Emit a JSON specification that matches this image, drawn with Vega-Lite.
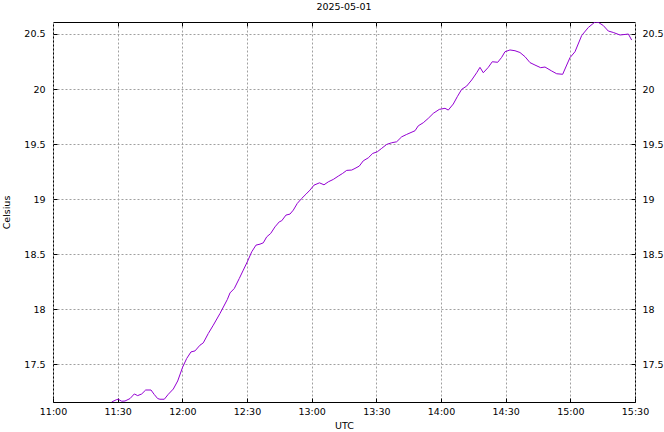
{
  "$schema": "https://vega.github.io/schema/vega-lite/v6.json",
  "autosize": "none",
  "width": 582,
  "height": 380,
  "padding": {"left": 53, "top": 22, "right": 29, "bottom": 30},
  "background": "white",
  "title": {"text": "2025-05-01", "fontSize": 9.5, "fontWeight": "normal", "font": "DejaVu Sans", "color": "#000", "offset": 10},
  "config": {
    "view": {"stroke": "#000", "strokeWidth": 1},
    "font": "DejaVu Sans",
    "axis": {"labelFont": "DejaVu Sans", "titleFont": "DejaVu Sans", "labelFontSize": 9.5, "titleFontSize": 9.5, "titleFontWeight": "normal", "labelColor": "#000", "titleColor": "#000", "domain": false, "tickColor": "#000", "gridColor": "#a0a0a0", "gridDash": [2, 2], "gridWidth": 1, "gridOpacity": 1}
  },
  "data": {"values": [
    {"time": "2025-05-01T11:27:14Z", "celsius": 17.157},
    {"time": "2025-05-01T11:29:33Z", "celsius": 17.179},
    {"time": "2025-05-01T11:30:17Z", "celsius": 17.182},
    {"time": "2025-05-01T11:31:52Z", "celsius": 17.164},
    {"time": "2025-05-01T11:33:24Z", "celsius": 17.166},
    {"time": "2025-05-01T11:35:43Z", "celsius": 17.188},
    {"time": "2025-05-01T11:37:43Z", "celsius": 17.230},
    {"time": "2025-05-01T11:39:17Z", "celsius": 17.215},
    {"time": "2025-05-01T11:41:09Z", "celsius": 17.230},
    {"time": "2025-05-01T11:43:00Z", "celsius": 17.266},
    {"time": "2025-05-01T11:45:28Z", "celsius": 17.266},
    {"time": "2025-05-01T11:46:59Z", "celsius": 17.225},
    {"time": "2025-05-01T11:48:34Z", "celsius": 17.188},
    {"time": "2025-05-01T11:49:38Z", "celsius": 17.182},
    {"time": "2025-05-01T11:51:38Z", "celsius": 17.182},
    {"time": "2025-05-01T11:53:29Z", "celsius": 17.227},
    {"time": "2025-05-01T11:55:49Z", "celsius": 17.275},
    {"time": "2025-05-01T11:57:51Z", "celsius": 17.348},
    {"time": "2025-05-01T12:00:10Z", "celsius": 17.475},
    {"time": "2025-05-01T12:02:01Z", "celsius": 17.552},
    {"time": "2025-05-01T12:04:01Z", "celsius": 17.612},
    {"time": "2025-05-01T12:05:52Z", "celsius": 17.621},
    {"time": "2025-05-01T12:08:11Z", "celsius": 17.673},
    {"time": "2025-05-01T12:09:43Z", "celsius": 17.694},
    {"time": "2025-05-01T12:12:02Z", "celsius": 17.779},
    {"time": "2025-05-01T12:14:22Z", "celsius": 17.855},
    {"time": "2025-05-01T12:17:28Z", "celsius": 17.961},
    {"time": "2025-05-01T12:20:52Z", "celsius": 18.088},
    {"time": "2025-05-01T12:22:07Z", "celsius": 18.148},
    {"time": "2025-05-01T12:24:06Z", "celsius": 18.188},
    {"time": "2025-05-01T12:26:25Z", "celsius": 18.279},
    {"time": "2025-05-01T12:28:17Z", "celsius": 18.355},
    {"time": "2025-05-01T12:30:08Z", "celsius": 18.430},
    {"time": "2025-05-01T12:32:11Z", "celsius": 18.521},
    {"time": "2025-05-01T12:34:10Z", "celsius": 18.582},
    {"time": "2025-05-01T12:36:02Z", "celsius": 18.591},
    {"time": "2025-05-01T12:37:34Z", "celsius": 18.603},
    {"time": "2025-05-01T12:39:08Z", "celsius": 18.657},
    {"time": "2025-05-01T12:40:59Z", "celsius": 18.688},
    {"time": "2025-05-01T12:42:59Z", "celsius": 18.748},
    {"time": "2025-05-01T12:44:59Z", "celsius": 18.794},
    {"time": "2025-05-01T12:46:05Z", "celsius": 18.803},
    {"time": "2025-05-01T12:48:05Z", "celsius": 18.855},
    {"time": "2025-05-01T12:49:56Z", "celsius": 18.864},
    {"time": "2025-05-01T12:51:29Z", "celsius": 18.900},
    {"time": "2025-05-01T12:53:20Z", "celsius": 18.961},
    {"time": "2025-05-01T12:55:22Z", "celsius": 19.006},
    {"time": "2025-05-01T12:57:22Z", "celsius": 19.045},
    {"time": "2025-05-01T12:59:13Z", "celsius": 19.082},
    {"time": "2025-05-01T13:01:05Z", "celsius": 19.127},
    {"time": "2025-05-01T13:03:38Z", "celsius": 19.148},
    {"time": "2025-05-01T13:05:43Z", "celsius": 19.130},
    {"time": "2025-05-01T13:07:43Z", "celsius": 19.157},
    {"time": "2025-05-01T13:10:02Z", "celsius": 19.179},
    {"time": "2025-05-01T13:12:21Z", "celsius": 19.209},
    {"time": "2025-05-01T13:14:23Z", "celsius": 19.234},
    {"time": "2025-05-01T13:16:15Z", "celsius": 19.261},
    {"time": "2025-05-01T13:18:34Z", "celsius": 19.264},
    {"time": "2025-05-01T13:20:06Z", "celsius": 19.279},
    {"time": "2025-05-01T13:22:05Z", "celsius": 19.300},
    {"time": "2025-05-01T13:23:57Z", "celsius": 19.348},
    {"time": "2025-05-01T13:26:16Z", "celsius": 19.375},
    {"time": "2025-05-01T13:28:19Z", "celsius": 19.415},
    {"time": "2025-05-01T13:30:26Z", "celsius": 19.430},
    {"time": "2025-05-01T13:32:29Z", "celsius": 19.461},
    {"time": "2025-05-01T13:34:48Z", "celsius": 19.497},
    {"time": "2025-05-01T13:37:07Z", "celsius": 19.512},
    {"time": "2025-05-01T13:39:26Z", "celsius": 19.521},
    {"time": "2025-05-01T13:41:46Z", "celsius": 19.566},
    {"time": "2025-05-01T13:44:05Z", "celsius": 19.588},
    {"time": "2025-05-01T13:47:56Z", "celsius": 19.621},
    {"time": "2025-05-01T13:49:28Z", "celsius": 19.666},
    {"time": "2025-05-01T13:51:47Z", "celsius": 19.694},
    {"time": "2025-05-01T13:54:06Z", "celsius": 19.734},
    {"time": "2025-05-01T13:56:25Z", "celsius": 19.779},
    {"time": "2025-05-01T13:59:12Z", "celsius": 19.815},
    {"time": "2025-05-01T14:01:51Z", "celsius": 19.825},
    {"time": "2025-05-01T14:03:23Z", "celsius": 19.809},
    {"time": "2025-05-01T14:05:42Z", "celsius": 19.864},
    {"time": "2025-05-01T14:07:33Z", "celsius": 19.930},
    {"time": "2025-05-01T14:09:35Z", "celsius": 19.997},
    {"time": "2025-05-01T14:11:55Z", "celsius": 20.027},
    {"time": "2025-05-01T14:14:14Z", "celsius": 20.082},
    {"time": "2025-05-01T14:16:33Z", "celsius": 20.148},
    {"time": "2025-05-01T14:18:05Z", "celsius": 20.197},
    {"time": "2025-05-01T14:19:37Z", "celsius": 20.148},
    {"time": "2025-05-01T14:21:56Z", "celsius": 20.197},
    {"time": "2025-05-01T14:23:47Z", "celsius": 20.248},
    {"time": "2025-05-01T14:26:18Z", "celsius": 20.243},
    {"time": "2025-05-01T14:28:09Z", "celsius": 20.288},
    {"time": "2025-05-01T14:29:41Z", "celsius": 20.339},
    {"time": "2025-05-01T14:32:00Z", "celsius": 20.355},
    {"time": "2025-05-01T14:34:19Z", "celsius": 20.348},
    {"time": "2025-05-01T14:36:38Z", "celsius": 20.332},
    {"time": "2025-05-01T14:38:58Z", "celsius": 20.294},
    {"time": "2025-05-01T14:41:17Z", "celsius": 20.240},
    {"time": "2025-05-01T14:43:36Z", "celsius": 20.218},
    {"time": "2025-05-01T14:46:14Z", "celsius": 20.194},
    {"time": "2025-05-01T14:48:14Z", "celsius": 20.200},
    {"time": "2025-05-01T14:51:21Z", "celsius": 20.164},
    {"time": "2025-05-01T14:53:40Z", "celsius": 20.139},
    {"time": "2025-05-01T14:56:27Z", "celsius": 20.134},
    {"time": "2025-05-01T14:58:19Z", "celsius": 20.218},
    {"time": "2025-05-01T14:59:50Z", "celsius": 20.285},
    {"time": "2025-05-01T15:02:10Z", "celsius": 20.339},
    {"time": "2025-05-01T15:05:16Z", "celsius": 20.486},
    {"time": "2025-05-01T15:08:20Z", "celsius": 20.559},
    {"time": "2025-05-01T15:11:26Z", "celsius": 20.609},
    {"time": "2025-05-01T15:12:58Z", "celsius": 20.606},
    {"time": "2025-05-01T15:15:17Z", "celsius": 20.577},
    {"time": "2025-05-01T15:17:36Z", "celsius": 20.527},
    {"time": "2025-05-01T15:19:55Z", "celsius": 20.514},
    {"time": "2025-05-01T15:23:02Z", "celsius": 20.491},
    {"time": "2025-05-01T15:25:49Z", "celsius": 20.497},
    {"time": "2025-05-01T15:26:54Z", "celsius": 20.500},
    {"time": "2025-05-01T15:28:27Z", "celsius": 20.445}
  ]},
  "resolve": {"axis": {"x": "independent", "y": "independent"}},
  "layer": [
    {
      "mark": {"type": "line", "color": "#9400d3", "strokeWidth": 1, "clip": true},
      "encoding": {
        "x": {"field": "time", "type": "temporal",
          "scale": {"type": "utc", "domain": [{"year": 2025, "month": 5, "date": 1, "hours": 11, "utc": true}, {"year": 2025, "month": 5, "date": 1, "hours": 15, "minutes": 30, "utc": true}], "nice": false},
          "axis": {"orient": "bottom", "title": "UTC", "format": "%H:%M",
            "values": [
              {"year": 2025, "month": 5, "date": 1, "hours": 11, "minutes": 0, "utc": true},
              {"year": 2025, "month": 5, "date": 1, "hours": 11, "minutes": 30, "utc": true},
              {"year": 2025, "month": 5, "date": 1, "hours": 12, "minutes": 0, "utc": true},
              {"year": 2025, "month": 5, "date": 1, "hours": 12, "minutes": 30, "utc": true},
              {"year": 2025, "month": 5, "date": 1, "hours": 13, "minutes": 0, "utc": true},
              {"year": 2025, "month": 5, "date": 1, "hours": 13, "minutes": 30, "utc": true},
              {"year": 2025, "month": 5, "date": 1, "hours": 14, "minutes": 0, "utc": true},
              {"year": 2025, "month": 5, "date": 1, "hours": 14, "minutes": 30, "utc": true},
              {"year": 2025, "month": 5, "date": 1, "hours": 15, "minutes": 0, "utc": true},
              {"year": 2025, "month": 5, "date": 1, "hours": 15, "minutes": 30, "utc": true}
            ],
            "grid": true, "tickSize": -4, "labelPadding": 8, "titlePadding": 5, "labelFlush": false}},
        "y": {"field": "celsius", "type": "quantitative",
          "scale": {"domain": [17.157, 20.609], "nice": false, "zero": false},
          "axis": {"orient": "left", "title": "Celsius", "values": [17.5, 18, 18.5, 19, 19.5, 20, 20.5], "format": ".1~f", "grid": true, "tickSize": -4, "labelPadding": 12, "titlePadding": 12}}
      }
    },
    {
      "mark": {"type": "line", "strokeOpacity": 0},
      "encoding": {
        "x": {"field": "time", "type": "temporal",
          "axis": {"orient": "top", "title": null, "labels": false,
            "values": [
              {"year": 2025, "month": 5, "date": 1, "hours": 11, "minutes": 30, "utc": true},
              {"year": 2025, "month": 5, "date": 1, "hours": 12, "minutes": 0, "utc": true},
              {"year": 2025, "month": 5, "date": 1, "hours": 12, "minutes": 30, "utc": true},
              {"year": 2025, "month": 5, "date": 1, "hours": 13, "minutes": 0, "utc": true},
              {"year": 2025, "month": 5, "date": 1, "hours": 13, "minutes": 30, "utc": true},
              {"year": 2025, "month": 5, "date": 1, "hours": 14, "minutes": 0, "utc": true},
              {"year": 2025, "month": 5, "date": 1, "hours": 14, "minutes": 30, "utc": true},
              {"year": 2025, "month": 5, "date": 1, "hours": 15, "minutes": 0, "utc": true}
            ],
            "grid": false, "tickSize": -4}},
        "y": {"field": "celsius", "type": "quantitative",
          "axis": {"orient": "right", "title": null, "values": [17.5, 18, 18.5, 19, 19.5, 20, 20.5], "format": ".1~f", "grid": false, "tickSize": -4, "labelPadding": 11}}
      }
    }
  ]
}
